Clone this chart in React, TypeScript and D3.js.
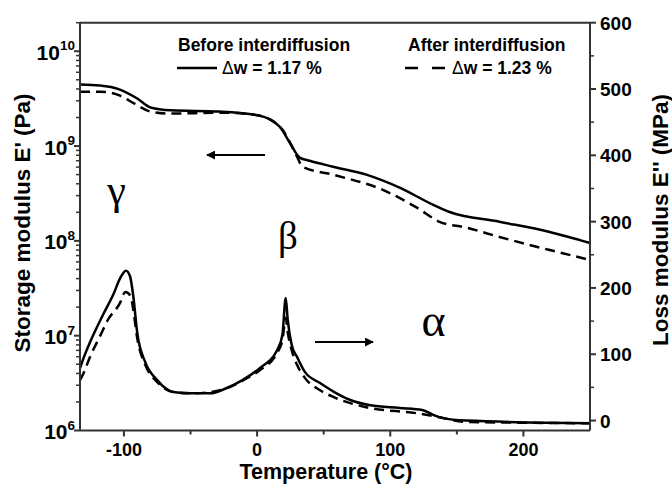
import React from 'react';
import * as d3 from 'd3';

const W = 672, H = 487;
const X0 = 80, X1 = 590, Y0 = 22.7, Y1 = 430.5;

const xDomain = [-133, 250];
const leftDomain = [1e6, 2e10];
const rightDomain = [-15, 600];

const xTicks = [-100, 0, 100, 200];
const xMinorTicks = [-50, 50, 150];
const leftTicks = [1e6, 1e7, 1e8, 1e9, 1e10];
const leftExponents = ['6', '7', '8', '9', '10'];
const rightTicks = [0, 100, 200, 300, 400, 500, 600];
const rightMinorTicks = [50, 150, 250, 350, 450, 550];

// Storage modulus E' (Pa), left axis
const storageBeforeT = [-133, -118, -103, -90, -80, -65, -28, -3, 10, 17, 24.5, 32, 39.5, 57, 82, 107, 132, 144, 182, 219, 250];
const storageBeforeE = [4.45e9, 4.35e9, 3.94e9, 3.17e9, 2.55e9, 2.38e9, 2.31e9, 2.15e9, 1.9e9, 1.6e9, 1.09e9, 7.55e8, 7.0e8, 6.06e8, 4.99e8, 3.64e8, 2.41e8, 2.03e8, 1.59e8, 1.25e8, 9.5e7];
const storageAfterT = [-133, -118, -103, -92, -80, -65, -28, -3, 10, 19, 30, 34, 57, 94, 120, 137, 157, 182, 219, 250];
const storageAfterE = [3.75e9, 3.75e9, 3.4e9, 2.8e9, 2.31e9, 2.2e9, 2.25e9, 2.15e9, 1.9e9, 1.49e9, 7.73e8, 6.06e8, 4.99e8, 3.47e8, 2.24e8, 1.59e8, 1.38e8, 1.1e8, 8.05e7, 6.3e7];

// Loss modulus E'' (MPa), right axis
const lossBeforeT = [-133, -130, -125.5, -115.6, -108, -103, -98.5, -95.5, -93, -90, -84, -75, -69, -63, -50, -35, -24, -11, 2, 15, 19, 21.5, 23, 26, 30, 36, 47, 58, 70, 85, 107, 124, 133, 139, 157, 250];
const lossBeforeV = [79, 96, 118, 160, 190, 214, 226, 218, 188, 132, 88, 61, 49, 43, 41, 41, 48, 61, 79, 106, 129, 185, 152, 114, 96, 73, 57, 43, 31, 23, 19, 16, 8, 4, 0, -4];
const lossAfterT = [-133, -130, -125.5, -118, -112, -103, -99, -95, -93, -90, -84, -75, -63, -50, -35, -24, -11, 2, 15, 19, 21.5, 23, 26, 30, 36, 47, 58, 82, 120, 137, 157, 250];
const lossAfterV = [61, 73, 96, 127, 152, 177, 194, 188, 167, 124, 84, 58, 43, 41, 43, 48, 60, 76, 102, 121, 155, 133, 106, 84, 64, 46, 35, 20, 11, 5, -2, -4];

const FONT = '"Liberation Sans", Arial, sans-serif';
const SERIF = '"Liberation Serif", "Times New Roman", serif';

export default function App() {
  const x = d3.scaleLinear().domain(xDomain).range([X0, X1]);
  const yL = d3.scaleLog().domain(leftDomain).range([Y1, Y0]);
  const yR = d3.scaleLinear().domain(rightDomain).range([Y1, Y0]);

  const lineL = d3.line<[number, number]>().x(d => x(d[0])).y(d => yL(d[1])).curve(d3.curveMonotoneX);
  const lineR = d3.line<[number, number]>().x(d => x(d[0])).y(d => yR(d[1])).curve(d3.curveMonotoneX);

  const zip = (a: number[], b: number[]) => a.map((v, i) => [v, b[i]] as [number, number]);

  const leftMinor: number[] = [];
  for (let e = 6; e <= 10; e++) {
    for (let m = 2; m <= 9; m++) {
      const v = m * Math.pow(10, e);
      if (v <= leftDomain[1]) leftMinor.push(v);
    }
  }

  const axisColor = '#333';
  const sw = 2.5;

  return (
    <svg width={W} height={H} style={{ position: 'absolute', left: 0, top: 0, background: '#fff' }} fontFamily={FONT}>
      <defs>
        <marker id="ah" viewBox="0 0 10 10" refX="9" refY="5" markerWidth="4.5" markerHeight="4.5" orient="auto">
          <path d="M0,0 L10,5 L0,10 z" fill="#000" />
        </marker>
      </defs>

      {/* curves */}
      <path d={lineL(zip(storageBeforeT, storageBeforeE)) || ''} fill="none" stroke="#000" strokeWidth={sw} />
      <path d={lineL(zip(storageAfterT, storageAfterE)) || ''} fill="none" stroke="#000" strokeWidth={sw} strokeDasharray="10 6" />
      <path d={lineR(zip(lossBeforeT, lossBeforeV)) || ''} fill="none" stroke="#000" strokeWidth={sw} />
      <path d={lineR(zip(lossAfterT, lossAfterV)) || ''} fill="none" stroke="#000" strokeWidth={sw} strokeDasharray="10 6" />

      {/* frame */}
      <line x1={X0} x2={X1} y1={Y0} y2={Y0} stroke={axisColor} strokeWidth={2} />
      <line x1={X0} x2={X1} y1={Y1} y2={Y1} stroke={axisColor} strokeWidth={2} />
      <line x1={X0} x2={X0} y1={Y0} y2={Y1} stroke={axisColor} strokeWidth={2} />
      <line x1={X1} x2={X1} y1={Y0} y2={Y1} stroke={axisColor} strokeWidth={2} />

      {/* bottom axis */}
      {xTicks.map(t => (
        <g key={'xt' + t}>
          <line x1={x(t)} x2={x(t)} y1={Y1} y2={Y1 + 6} stroke={axisColor} strokeWidth={2} />
          <text x={x(t)} y={456} textAnchor="middle" fontSize={18} fontWeight="bold">{t}</text>
        </g>
      ))}
      {xMinorTicks.map(t => (
        <line key={'xm' + t} x1={x(t)} x2={x(t)} y1={Y1} y2={Y1 + 4} stroke={axisColor} strokeWidth={2} />
      ))}
      <text x={326} y={479} textAnchor="middle" fontSize={21.5} fontWeight="bold">Temperature (°C)</text>

      {/* left axis */}
      {leftTicks.map((t, i) => (
        <g key={'lt' + t}>
          <line x1={X0 - 6} x2={X0} y1={yL(t)} y2={yL(t)} stroke={axisColor} strokeWidth={2} />
          <text x={75} y={yL(t) + 8.5} textAnchor="end" fontSize={21} fontWeight="bold">
            10<tspan dy={-9.5} fontSize={13.5}>{leftExponents[i]}</tspan>
          </text>
        </g>
      ))}
      {leftMinor.map(t => (
        <line key={'lm' + t} x1={X0 - 4} x2={X0} y1={yL(t)} y2={yL(t)} stroke={axisColor} strokeWidth={1.5} />
      ))}
      <text transform={`translate(30,223) rotate(-90)`} textAnchor="middle" fontSize={22.5} fontWeight="bold">Storage modulus E' (Pa)</text>

      {/* right axis */}
      {rightTicks.map(t => (
        <g key={'rt' + t}>
          <line x1={X1} x2={X1 + 6} y1={yR(t)} y2={yR(t)} stroke={axisColor} strokeWidth={2} />
          <text x={600} y={yR(t) + 7} textAnchor="start" fontSize={19} fontWeight="bold">{t}</text>
        </g>
      ))}
      {rightMinorTicks.map(t => (
        <line key={'rm' + t} x1={X1} x2={X1 + 4} y1={yR(t)} y2={yR(t)} stroke={axisColor} strokeWidth={1.5} />
      ))}
      <text transform={`translate(668,220) rotate(-90)`} textAnchor="middle" fontSize={22.5} fontWeight="bold">Loss modulus E'' (MPa)</text>

      {/* legend */}
      <text x={178} y={51} fontSize={17.5} fontWeight="bold">Before interdiffusion</text>
      <text x={408} y={51} fontSize={17.5} fontWeight="bold">After interdiffusion</text>
      <line x1={177} x2={217} y1={68} y2={68} stroke="#000" strokeWidth={sw} />
      <text x={222} y={74} fontSize={17.5} fontWeight="bold"><tspan fontWeight="normal">Δ</tspan>w = 1.17 %</text>
      <line x1={405} x2={445} y1={68} y2={68} stroke="#000" strokeWidth={sw} strokeDasharray="13 14" />
      <text x={452} y={74} fontSize={17.5} fontWeight="bold"><tspan fontWeight="normal">Δ</tspan>w = 1.23 %</text>

      {/* annotations */}
      <line x1={265} x2={207} y1={155} y2={155} stroke="#000" strokeWidth={2} markerEnd="url(#ah)" />
      <line x1={315} x2={373} y1={342} y2={342} stroke="#000" strokeWidth={2} markerEnd="url(#ah)" />
      <text x={116.5} y={204} textAnchor="middle" fontSize={42} fontFamily={SERIF}>γ</text>
      <text x={288} y={249} textAnchor="middle" fontSize={39} fontFamily={SERIF}>β</text>
      <text x={433.5} y={336} textAnchor="middle" fontSize={46} fontFamily={SERIF}>α</text>
    </svg>
  );
}
